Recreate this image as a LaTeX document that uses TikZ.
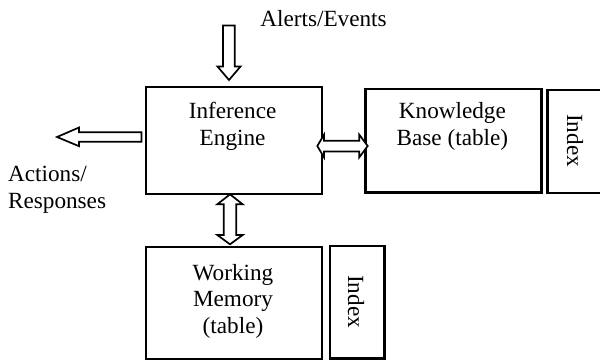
\documentclass[tikz,border=0pt]{standalone}
\usepackage{fontspec}
\setmainfont{Liberation Serif}
\begin{document}
\begin{tikzpicture}[x=0.5pt,y=-0.5pt,
  box/.style={draw,line width=1.1pt,rectangle,inner sep=0pt,anchor=north west},
  lbl/.style={font=\fontsize{11.6}{13.5}\selectfont,inner sep=0pt},
  blk/.style={draw,line width=0.85pt,fill=white,line join=miter}]
\useasboundingbox (0,0) rectangle (600,359);
\begin{scope}
\clip (0,0) rectangle (600,359);
% blocks
\node[box,minimum width=87.9pt,minimum height=53.5pt] (ie) at (144.7,86) {};
\node[box,minimum width=88pt,minimum height=51.7pt] (kb) at (364.3,88) {};
\node[box,minimum width=32pt,minimum height=51.7pt] (kbidx) at (546.3,88.5) {};
\node[box,minimum width=87.9pt,minimum height=56pt] (wm) at (144.7,245.5) {};
\node[box,minimum width=27.3pt,minimum height=56.2pt] (wmidx) at (328.8,245) {};
\end{scope}
% labels inside blocks
\node[lbl,anchor=base] (ietxt1) at (232.6,118.3) {Inference};
\node[lbl,anchor=base] (ietxt2) at (232.6,145.7) {Engine};
\node[lbl,anchor=base] (kbtxt1) at (452.4,118.5) {Knowledge};
\node[lbl,anchor=base] (kbtxt2) at (452.4,145.7) {Base (table)};
\node[lbl,anchor=base] (wmtxt1) at (233,280) {Working};
\node[lbl,anchor=base] (wmtxt2) at (233,306.7) {Memory};
\node[lbl,anchor=base] (wmtxt3) at (233,333.3) {(table)};
\node[lbl,rotate=-90] (kbidxtxt) at (575,140.5) {Index};
\node[lbl,rotate=-90] (wmidxtxt) at (356,301.5) {Index};
% outside labels
\node[lbl,anchor=base west] (alerts) at (260,26.5) {Alerts/Events};
\node[lbl,anchor=base west] (act1) at (7.7,181.7) {Actions/};
\node[lbl,anchor=base west] (act2) at (7.7,208.3) {Responses};
% incoming alerts (down block arrow)
\draw[blk] (223,25.5) -- (234.7,25.5) -- (234.7,66.5) -- (240.5,66.5)
  -- (229,80) -- (217.5,66.5) -- (223,66.5) -- cycle;
% outgoing actions (left block arrow)
\draw[blk] (141.5,132.2) -- (79,132.2) -- (79,127.5) -- (57,137)
  -- (79,146.2) -- (79,141.7) -- (141.5,141.7) -- cycle;
% engine <-> knowledge base
\draw[blk] (317.3,146) -- (324,134.7) -- (324,140.8) -- (359.3,140.8)
  -- (359.3,134.7) -- (367.7,146) -- (359.3,157.3) -- (359.3,151.5)
  -- (324,151.5) -- (324,157.3) -- cycle;
% engine <-> working memory
\draw[blk] (230,194.3) -- (242.7,204.3) -- (236.3,204.3) -- (236.3,235)
  -- (242.7,235) -- (230,244.3) -- (217.3,235) -- (223.7,235)
  -- (223.7,204.3) -- (217.3,204.3) -- cycle;
\end{tikzpicture}
\end{document}
